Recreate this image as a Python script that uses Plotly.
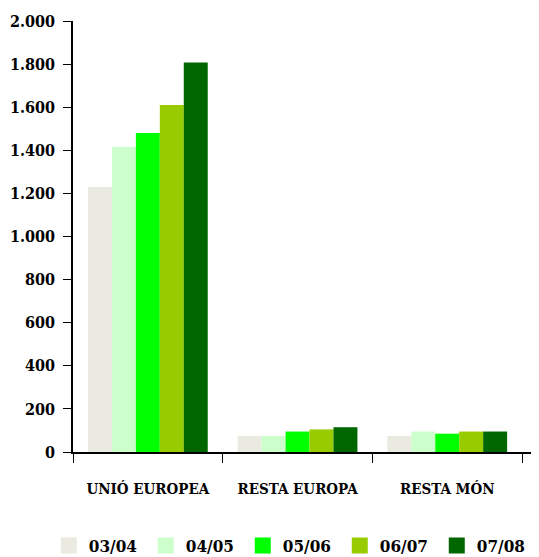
import plotly.graph_objects as go

categories = ["UNIÓ EUROPEA", "RESTA EUROPA", "RESTA MÓN"]
series_names = ["03/04", "04/05", "05/06", "06/07", "07/08"]
values_0304 = [1230, 75, 75]
values_0405 = [1415, 75, 95]
values_0506 = [1480, 95, 85]
values_0607 = [1610, 105, 95]
values_0708 = [1808, 115, 95]
colors = ["#EAEAE0", "#CCFFCC", "#00FF00", "#99CC00", "#006600"]
y_ticks = [0, 200, 400, 600, 800, 1000, 1200, 1400, 1600, 1800, 2000]

all_values = [values_0304, values_0405, values_0506, values_0607, values_0708]
FONT = "DejaVu Serif Condensed, DejaVu Serif, serif"

fig = go.Figure()
for name, vals, col in zip(series_names, all_values, colors):
    fig.add_trace(go.Bar(x=categories, y=vals, name=name, marker_color=col,
                         marker_line_width=0, showlegend=False))
for name, col in zip(series_names, colors):
    fig.add_trace(go.Scatter(x=[None], y=[None], mode="markers", name=name,
                             marker=dict(symbol="square", size=16, color=col),
                             showlegend=True))

fig.update_layout(
    width=531, height=549,
    margin=dict(l=65, r=0, t=13, b=105, autoexpand=False),
    plot_bgcolor="white", paper_bgcolor="white",
    separators=",.",
    barmode="group", bargap=0.2, bargroupgap=0,
    font=dict(family=FONT, size=16, color="black"),
    legend=dict(orientation="h", x=-0.052, xanchor="left", y=-0.176, yanchor="top",
                entrywidth=52, entrywidthmode="pixels",
                font=dict(family=FONT, size=17, color="black", weight="bold"),
                itemsizing="trace", tracegroupgap=0),
    xaxis=dict(type="category", range=[-0.5, 2.613], showline=True, linecolor="black",
               linewidth=1.5, ticks="outside", tickson="boundaries", ticklen=9,
               tickcolor="black", showgrid=False, ticklabelstandoff=22,
               tickfont=dict(family=FONT, size=15, color="black", weight="bold")),
    yaxis=dict(range=[0, 2000], tickvals=y_ticks, tickformat=",d", showline=True,
               linecolor="black", linewidth=1.5, ticks="outside", ticklen=8,
               tickcolor="black", showgrid=False, zeroline=False, ticklabelstandoff=5,
               tickfont=dict(family=FONT, size=16, color="black", weight="bold")),
)

fig.write_html("out.html")
